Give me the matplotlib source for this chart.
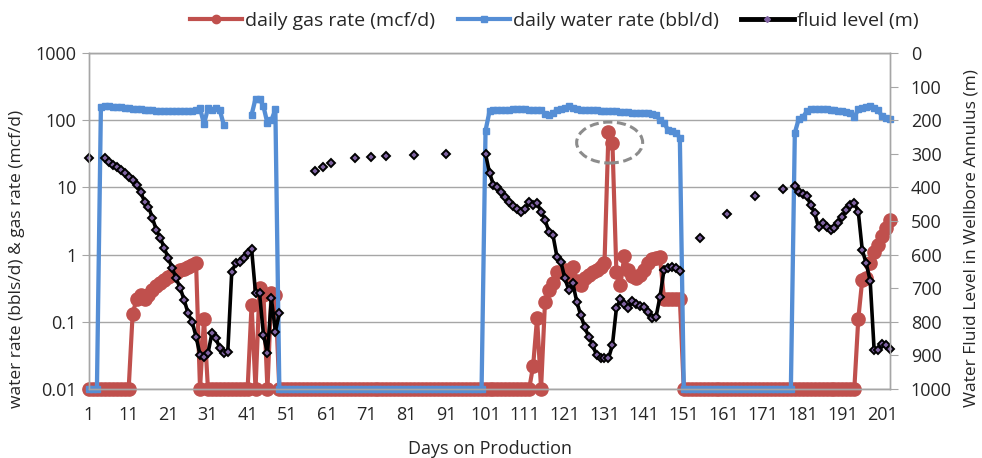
import matplotlib.pyplot as plt
import numpy as np
from matplotlib.lines import Line2D
from matplotlib.patches import Ellipse
from matplotlib.ticker import NullLocator

plt.rcParams['font.family'] = ['Open Sans', 'DejaVu Sans']

nan = np.nan
days = np.arange(1, 204)

# daily water rate (bbl/d), one value per day, 0.01 = no flow
water_rate = ([0.01] * 3
              + [155, 160, 160, 158, 156, 155, 152, 150, 148, 146, 145, 142, 140, 140, 138,
                 138, 136, 136, 135, 135, 136, 136, 136, 138, 140, 150]
              + [88, 150, 140, 150, 140, 85]
              + [nan] * 6
              + [120, 210, 210, 160, 90, 100, 145]
              + [0.01] * 52
              + [70, 135, 140, 142, 142, 143, 143, 145, 145, 145,
                 145, 142, 142, 140, 140, 125, 120, 130, 140, 145,
                 150, 160, 150, 145, 142, 142, 140, 140, 140, 138,
                 138, 136, 135, 135, 134, 133, 132, 130, 130, 129,
                 128, 127, 125, 118, 100, 92, 72, 70, 65, 55]
              + [0.01] * 28
              + [65, 105, 110, 135, 145, 148, 148, 146, 145, 143, 140, 138, 136, 134, 130,
                 110, 145, 150, 155, 160, 150, 140, 115, 108, 105])

# daily gas rate (mcf/d)
gas_rate = ([0.01] * 11
            + [0.13, 0.22, 0.25, 0.22, 0.25, 0.3, 0.34, 0.38, 0.42, 0.46, 0.5, 0.54, 0.58,
               0.62, 0.66, 0.7, 0.75]
            + [0.01, 0.11, 0.01]
            + [0.01] * 10
            + [0.18, 0.01, 0.32, 0.25, 0.01, 0.27, 0.25]
            + [0.01] * 64
            + [0.022, 0.115, 0.01, 0.2, 0.3, 0.38, 0.55, 0.55, 0.6, 0.5,
               0.65, 0.4, 0.35, 0.45, 0.5, 0.55, 0.6, 0.65, 0.75, 66,
               46, 0.55, 0.35, 0.95, 0.6, 0.48, 0.45, 0.5, 0.6, 0.75,
               0.85, 0.9, 0.92, 0.22, 0.22, 0.22, 0.22, 0.22]
            + [0.01] * 44
            + [0.11, 0.42, 0.45, 0.75, 1.1, 1.4, 1.9, 2.5, 3.3])

# fluid level (m), start day -> consecutive daily readings
fluid_runs = {
    1: [313],
    5: [313, 323, 333, 340, 348, 358, 368, 378, 393, 413, 442, 457, 492, 527, 551,
        581, 611, 641, 671, 700, 735, 775, 800, 844, 899, 904, 894, 834, 849, 879,
        894, 889, 651, 626, 621, 611, 596, 583, 715, 715, 839, 894, 730, 829, 775],
    58: [350], 60: [340], 62: [328], 68: [313], 72: [310], 76: [306], 83: [304], 91: [301],
    101: [301, 356, 393, 398, 413, 428, 442, 455, 465, 472,
          465, 442, 452, 447, 472, 497, 532, 542, 606, 621,
          671, 705, 685, 740, 780, 815, 844, 869, 899, 909,
          909, 909, 869, 760, 733, 747, 760, 737, 747, 753,
          755, 770, 790, 785, 725, 646, 640, 638, 641, 648],
    155: [552], 162: [479], 169: [425], 176: [406],
    179: [396, 413, 420, 426, 452, 477, 519, 507, 517, 527, 522, 507, 487, 467, 452,
          446, 472, 586, 626, 678, 884, 884, 866, 869, 882],
}
fluid_level = np.full(len(days), nan)
for start, vals in fluid_runs.items():
    fluid_level[start - 1:start - 1 + len(vals)] = vals

left_ticks = [0.01, 0.1, 1, 10, 100, 1000]
left_labels = ['0.01', '0.1', '1', '10', '100', '1000']
right_ticks = list(range(0, 1001, 100))
x_ticks = list(range(1, 204, 10))

red = '#C0504D'
blue = '#558ED5'
purple = '#8064A2'
grid_c = '#A6A6A6'
txt = '#262626'

fig = plt.figure(figsize=(9.82, 4.58), dpi=100)
ax = fig.add_axes([89 / 982, 69 / 458, 801 / 982, 336 / 458])
ax2 = ax.twinx()

ax.plot(days, gas_rate, color=red, lw=3, marker='o', ms=9.5, mec=red, clip_on=False)
ax.plot(days, water_rate, color=blue, lw=3.1, marker='s', ms=5, mec=blue, clip_on=False)
ax2.plot(days, fluid_level, color='black', lw=2.6, marker='D', ms=4.5,
         mfc=purple, mec='black', mew=1.4, clip_on=False)

ax.set_yscale('log')
ax.set_ylim(0.01, 1000)
ax.set_yticks(left_ticks)
ax.set_yticklabels(left_labels)
ax.yaxis.set_minor_locator(NullLocator())
ax.set_xlim(1, 203)
ax.set_xticks(x_ticks)
ax.yaxis.grid(True, color=grid_c, lw=1)
ax.set_axisbelow(True)

ax2.set_ylim(1000, 0)
ax2.set_yticks(right_ticks)

for a in (ax, ax2):
    for s in a.spines.values():
        s.set_color(grid_c)
        s.set_linewidth(1)
ax.tick_params(axis='x', length=0, pad=12, labelsize=13, labelcolor=txt)
ax.tick_params(axis='y', length=5, color=grid_c, pad=4, labelsize=13, labelcolor=txt)
ax2.tick_params(axis='y', length=6, color=grid_c, pad=9, labelsize=13, labelcolor=txt)

# dashed ellipse around the gas spike
cx, cy = ax.transAxes.inverted().transform(ax.transData.transform((132.3, 46.5)))
ax.add_patch(Ellipse((cx, cy), 66 / 801, 41 / 336, transform=ax.transAxes, fill=False,
                     edgecolor='#8C8C8C', lw=2.2, linestyle=(0, (3, 1.5)), zorder=5))

fig.text(490 / 982, 1 - 449 / 458, 'Days on Production', ha='center', va='center',
         fontsize=13, color=txt)
fig.text(17 / 982, 1 - 259 / 458, 'water rate (bbls/d) & gas rate (mcf/d)', rotation=90,
         ha='center', va='center', fontsize=12.5, color=txt)
fig.text(972 / 982, 1 - 238 / 458, 'Water Fluid Level in Wellbore Annulus (m)', rotation=90,
         ha='center', va='center', fontsize=12.5, color=txt)

# legend keys use smaller markers, like the Excel legend
keys = [
    Line2D([], [], color=red, lw=3, marker='o', ms=6, mec=red),
    Line2D([], [], color=blue, lw=3, marker='s', ms=4, mec=blue),
    Line2D([], [], color='black', lw=3.5, marker='D', ms=3, mfc=purple, mec=purple),
]
names = ['daily gas rate (mcf/d)', 'daily water rate (bbl/d)', 'fluid level (m)']
fig.legend(keys, names, loc='center', bbox_to_anchor=(554 / 982, 1 - 21 / 458),
           ncol=3, frameon=False, fontsize=14, handlelength=2.7, handletextpad=0.15,
           columnspacing=1.15, labelcolor=txt)

fig.savefig('out.png', dpi=100)
